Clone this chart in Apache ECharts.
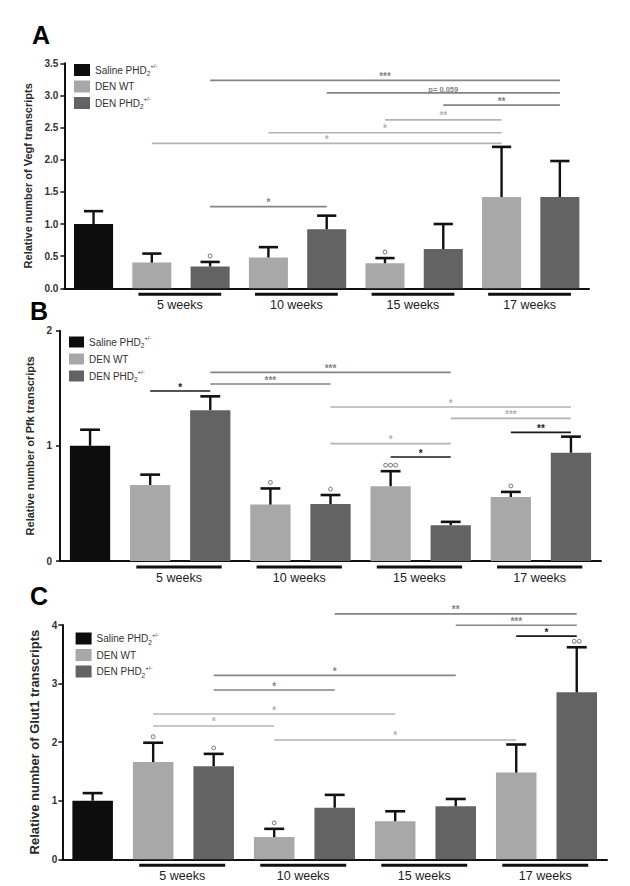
<!DOCTYPE html>
<html><head><meta charset="utf-8">
<script src="https://cdn.jsdelivr.net/npm/echarts@6/dist/echarts.min.js"></script>
<style>html,body{margin:0;padding:0;background:#fff}#c{width:630px;height:886px}</style>
</head><body><div id="c"></div>
<script>
// ---------- DATA ----------
const categories = ['Saline PHD2+/-', 'DEN WT 5 weeks', 'DEN PHD2+/- 5 weeks', 'DEN WT 10 weeks', 'DEN PHD2+/- 10 weeks',
  'DEN WT 15 weeks', 'DEN PHD2+/- 15 weeks', 'DEN WT 17 weeks', 'DEN PHD2+/- 17 weeks'];
const seriesNames = ['Saline PHD2+/-', 'DEN WT', 'DEN PHD2+/-'];
const barGroup = [0, 1, 2, 1, 2, 1, 2, 1, 2];
const weekLabels = ['5 weeks', '10 weeks', '15 weeks', '17 weeks'];
const weekPairs = [[1, 2], [3, 4], [5, 6], [7, 8]];

// Panel A: Vegf
const vegfMean = [1.00, 0.40, 0.34, 0.48, 0.92, 0.39, 0.61, 1.42, 1.42];
const vegfTop  = [1.20, 0.54, 0.41, 0.64, 1.13, 0.47, 1.00, 2.20, 1.98];
const vegfMarks = [0, 0, 1, 0, 0, 1, 0, 0, 0];
const vegfTicks = [0, 0.5, 1.0, 1.5, 2.0, 2.5, 3.0, 3.5];
// [from, to, level, label, tone]
const vegfSig = [
  [2, 8, 3.235, '***', 1], [4, 8, 3.04, 'p= 0.059', 1], [6, 8, 2.85, '**', 1],
  [5, 7, 2.62, '**', 2], [3, 7, 2.42, '*', 2], [1, 7, 2.255, '*', 2], [2, 4, 1.27, '*', 1]
];

// Panel B: Pfk
const pfkMean = [1.00, 0.66, 1.31, 0.49, 0.495, 0.65, 0.31, 0.556, 0.94];
const pfkTop  = [1.14, 0.75, 1.43, 0.63, 0.573, 0.78, 0.34, 0.60, 1.08];
const pfkMarks = [0, 0, 0, 1, 1, 3, 0, 1, 0];
const pfkTicks = [0, 1, 2];
const pfkSig = [
  [1, 2, 1.476, '*', 0], [2, 6, 1.638, '***', 1], [2, 4, 1.537, '***', 1], [4, 8, 1.337, '*', 2],
  [6, 8, 1.239, '***', 2], [7, 8, 1.117, '**', 0], [4, 6, 1.019, '*', 2], [5, 6, 0.903, '*', 0]
];

// Panel C: Glut1
const glutMean = [1.00, 1.66, 1.59, 0.38, 0.88, 0.65, 0.905, 1.48, 2.85];
const glutTop  = [1.13, 1.99, 1.80, 0.52, 1.10, 0.82, 1.03, 1.96, 3.62];
const glutMarks = [0, 1, 1, 1, 0, 0, 0, 0, 2];
const glutTicks = [0, 1, 2, 3, 4];
const glutSig = [
  [4, 8, 4.19, '**', 1], [6, 8, 3.995, '***', 1], [7, 8, 3.81, '*', 0], [2, 6, 3.14, '*', 1],
  [2, 4, 2.89, '*', 1], [1, 5, 2.48, '*', 2], [1, 3, 2.276, '*', 2], [3, 7, 2.037, '*', 2]
];

// ---------- STYLE / LAYOUT ----------
const FONT = '"Liberation Sans", Arial, Helvetica, sans-serif';
const barColors = ['#0d0d0d', '#a8a8a8', '#636363'];
const toneColors = ['#1a1a1a', '#858585', '#b3b3b3'];

const panels = [
  { letter: 'A', name: 'Relative number of Vegf transcripts', mean: vegfMean, top: vegfTop, marks: vegfMarks, sig: vegfSig, ticks: vegfTicks, dec: 1,
    grid: { left: 64.4, top: 63.3, right: 41, bottom: 597.7 }, legend: { left: 74, top: 63, itemWidth: 16, itemHeight: 12, itemGap: 3.5 },
    nameGap: 23, nameSize: 11, labelMargin: 6, letterPos: [32, 22.5] },
  { letter: 'B', name: 'Relative number of Pfk transcripts', mean: pfkMean, top: pfkTop, marks: pfkMarks, sig: pfkSig, ticks: pfkTicks, dec: 0,
    grid: { left: 60, top: 330.7, right: 29, bottom: 325 }, legend: { left: 69, top: 335, itemWidth: 15, itemHeight: 11, itemGap: 4.5 },
    nameGap: 19, nameSize: 11, labelMargin: 8, letterPos: [30, 298] },
  { letter: 'C', name: 'Relative number of Glut1 transcripts', mean: glutMean, top: glutTop, marks: glutMarks, sig: glutSig, ticks: glutTicks, dec: 0,
    grid: { left: 62.4, top: 625, right: 23, bottom: 26.7 }, legend: { left: 75.6, top: 631.5, itemWidth: 16, itemHeight: 12, itemGap: 3.5 },
    nameGap: 21, nameSize: 13, labelMargin: 5, letterPos: [30, 583] }
];

function legendFormatter(name) {
  if (name === 'DEN WT') return '{t|DEN WT}';
  const base = name.indexOf('Saline') === 0 ? 'Saline PHD' : 'DEN PHD';
  return '{t|' + base + '}{sub|2}{sup|+/-}';
}

const option = {
  animation: false,
  backgroundColor: '#ffffff',
  textStyle: { fontFamily: FONT },
  grid: [], xAxis: [], yAxis: [], legend: [], series: [], graphic: []
};

panels.forEach(function (p, pi) {
  option.grid.push(Object.assign({ containLabel: false }, p.grid));
  option.xAxis.push({
    type: 'category', gridIndex: pi, data: categories,
    axisLine: { lineStyle: { color: '#111', width: 2 } },
    axisTick: { show: false }, axisLabel: { show: false }, splitLine: { show: false }
  });
  const step = p.ticks[1] - p.ticks[0];
  option.yAxis.push({
    type: 'value', gridIndex: pi, min: p.ticks[0], max: p.ticks[p.ticks.length - 1], interval: step,
    name: p.name, nameLocation: 'middle', nameGap: p.nameGap,
    nameTextStyle: { fontFamily: FONT, fontWeight: 'bold', fontSize: p.nameSize, color: '#2a2a2a' },
    axisLine: { show: true, lineStyle: { color: '#111', width: 2 } },
    axisTick: { show: true, length: 4, lineStyle: { color: '#111', width: 1.5 } },
    axisLabel: { fontFamily: FONT, fontSize: 10, fontWeight: 'bold', color: '#333', margin: p.labelMargin,
      formatter: function (v) { return v.toFixed(p.dec); } },
    splitLine: { show: false }
  });
  option.legend.push(Object.assign({
    data: seriesNames, orient: 'vertical', icon: 'rect', selectedMode: false,
    padding: 0,
    formatter: legendFormatter,
    textStyle: {
      fontFamily: FONT, color: '#333', fontSize: 10,
      rich: {
        t: { fontFamily: FONT, fontSize: 10, color: '#333', lineHeight: 14 },
        sub: { fontFamily: FONT, fontSize: 6.5, color: '#333', lineHeight: 14, verticalAlign: 'bottom' },
        sup: { fontFamily: FONT, fontSize: 6, color: '#333', lineHeight: 14, verticalAlign: 'top' }
      }
    }
  }, p.legend));

  // bars
  seriesNames.forEach(function (sn, k) {
    option.series.push({
      type: 'bar', name: sn, xAxisIndex: pi, yAxisIndex: pi,
      barGap: '-100%', barCategoryGap: '33%',
      itemStyle: { color: barColors[k] },
      data: p.mean.map(function (v, i) { return barGroup[i] === k ? v : '-'; })
    });
  });

  // error bars + degree markers
  option.series.push({
    type: 'custom', xAxisIndex: pi, yAxisIndex: pi, silent: true, z: 5,
    data: p.mean.map(function (v, i) { return [i, v, p.top[i]]; }),
    encode: { x: 0, y: [1, 2] },
    renderItem: function (params, api) {
      const i = api.value(0);
      const base = api.coord([i, api.value(1)]);
      const top = api.coord([i, api.value(2)]);
      const band = api.size([1, 0])[0];
      const hw = band * 0.165;
      const children = [
        { type: 'line', shape: { x1: base[0], y1: base[1], x2: top[0], y2: top[1] }, style: { stroke: '#111', lineWidth: 2.4 } },
        { type: 'line', shape: { x1: top[0] - hw, y1: top[1], x2: top[0] + hw, y2: top[1] }, style: { stroke: '#111', lineWidth: 2.6 } }
      ];
      const n = p.marks[params.dataIndex];
      for (let m = 0; m < n; m++) {
        const cx = top[0] + (m - (n - 1) / 2) * 5;
        children.push({ type: 'circle', shape: { cx: cx, cy: top[1] - 6, r: 1.9 }, style: { fill: 'none', stroke: '#8a8a8a', lineWidth: 1.1 } });
      }
      return { type: 'group', children: children };
    }
  });

  // significance brackets
  option.series.push({
    type: 'custom', xAxisIndex: pi, yAxisIndex: pi, silent: true, z: 4, clip: false,
    data: p.sig.map(function (s) { return [s[0], s[2]]; }),
    encode: { x: 0, y: 1 },
    renderItem: function (params, api) {
      const s = p.sig[params.dataIndex];
      const a = api.coord([s[0], s[2]]);
      const b = api.coord([s[1], s[2]]);
      const col = toneColors[s[4]];
      return {
        type: 'group', children: [
          { type: 'line', shape: { x1: a[0], y1: a[1], x2: b[0], y2: a[1] }, style: { stroke: col, lineWidth: 1.6 } },
          { type: 'text', style: { x: (a[0] + b[0]) / 2, y: a[1] + 1, text: s[3], fill: col, fontFamily: FONT,
            fontSize: s[3].length > 3 ? 7.5 : 10, fontWeight: 'bold', align: 'center', verticalAlign: 'bottom' } }
        ]
      };
    }
  });

  // week group underlines and labels
  option.series.push({
    type: 'custom', xAxisIndex: pi, yAxisIndex: pi, silent: true, z: 4, clip: false,
    data: weekPairs.map(function (w) { return [w[0], 0]; }),
    encode: { x: 0, y: 1 },
    renderItem: function (params, api) {
      const w = weekPairs[params.dataIndex];
      const a = api.coord([w[0], 0]);
      const b = api.coord([w[1], 0]);
      const band = api.size([1, 0])[0];
      const x1 = a[0] - band * 0.23, x2 = b[0] + band * 0.19;
      return {
        type: 'group', children: [
          { type: 'line', shape: { x1: x1, y1: a[1] + 6, x2: x2, y2: a[1] + 6 }, style: { stroke: '#111', lineWidth: 3 } },
          { type: 'text', style: { x: (x1 + x2) / 2, y: a[1] + 17, text: weekLabels[params.dataIndex], fill: '#222',
            fontFamily: FONT, fontSize: 12.5, align: 'center', verticalAlign: 'middle' } }
        ]
      };
    }
  });

  option.graphic.push({
    type: 'text', left: p.letterPos[0], top: p.letterPos[1],
    style: { text: p.letter, fontFamily: FONT, fontWeight: 'bold', fontSize: 25, fill: '#000' }
  });
});

const chart = echarts.init(document.getElementById('c'), null, { renderer: 'svg', width: 630, height: 886 });
chart.setOption(option);
</script>
</body></html>
